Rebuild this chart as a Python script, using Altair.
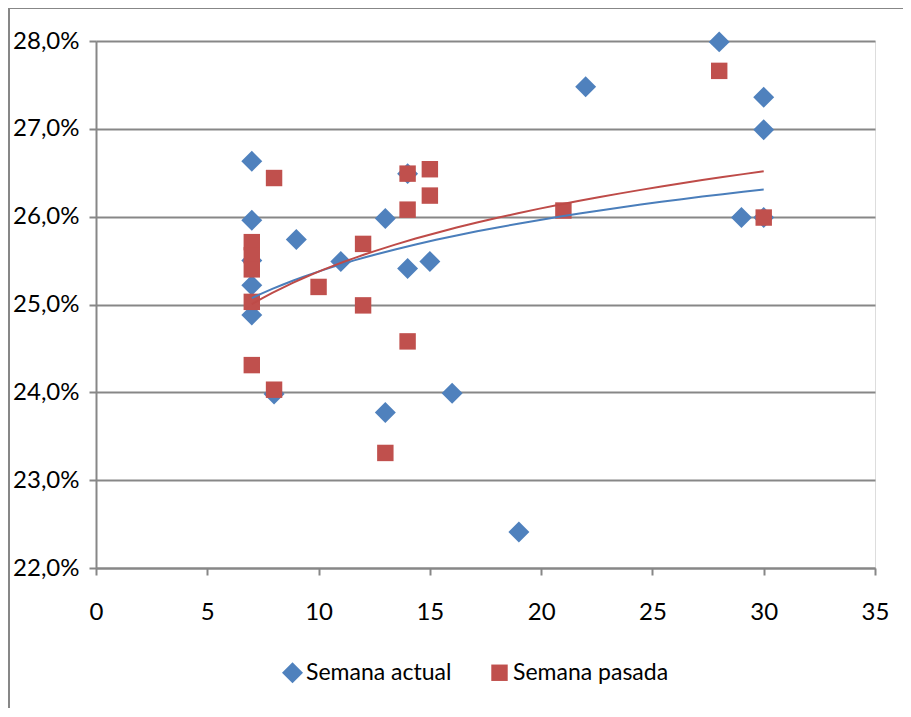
import altair as alt
import pandas as pd

series_names = ["Semana actual", "Semana pasada"]

actual_x = [7, 7, 7, 7, 7, 8, 9, 11, 13, 13, 14, 14, 15, 16, 19, 22, 28, 29, 30, 30, 30]
actual_y = [26.63, 25.96, 25.50, 25.22, 24.88, 23.98, 25.74, 25.49, 25.98, 23.77,
            26.49, 25.41, 25.49, 23.99, 22.41, 27.48, 27.99, 25.99, 27.36, 26.99, 25.99]

pasada_x = [7, 7, 7, 7, 7, 8, 8, 10, 12, 12, 13, 14, 14, 14, 15, 15, 21, 28, 30]
pasada_y = [25.71, 25.56, 25.40, 25.03, 24.31, 26.44, 24.03, 25.20, 25.69, 24.99,
            23.31, 26.49, 26.08, 24.58, 26.54, 26.24, 26.07, 27.66, 25.99]

x_ticks = [0, 5, 10, 15, 20, 25, 30, 35]
y_ticks = [22, 23, 24, 25, 26, 27, 28]

colors = ["#4F81BD", "#C0504D"]
line_colors = ["#4A7EBB", "#BE4B48"]

df = pd.DataFrame({
    "x": actual_x + pasada_x,
    "y": actual_y + pasada_y,
    "serie": [series_names[0]] * len(actual_x) + [series_names[1]] * len(pasada_x),
})

FONT = "Lato"
FS = 24
W, H = 779, 527

xs = alt.Scale(domain=[0, 35], nice=False, zero=False)
ys = alt.Scale(domain=[22, 28], nice=False, zero=False)

legend_cfg = dict(title=None, orient="none", direction="horizontal",
                  legendX=185, legendY=620, labelFont=FONT,
                  labelFontSize=23, labelColor="#000000", labelLimit=400,
                  symbolSize=260, labelOffset=2, columnPadding=36,
                  padding=0, symbolStrokeWidth=0)

points = alt.Chart(df).mark_point(filled=True, opacity=1, strokeWidth=0).encode(
    x=alt.X("x:Q", scale=xs, axis=alt.Axis(
        values=x_ticks, title=None, grid=False, domainColor="#878787", domainWidth=2,
        tickColor="#878787", tickWidth=2, tickSize=7, labelFont=FONT, labelFontSize=FS,
        labelColor="#000000", labelPadding=25, labelFlush=False)),
    y=alt.Y("y:Q", scale=ys, axis=alt.Axis(
        values=y_ticks, title=None, grid=True, gridColor="#878787", gridWidth=2,
        domainColor="#878787", domainWidth=2, tickColor="#878787", tickWidth=2, tickSize=7,
        labelFont=FONT, labelFontSize=FS, labelColor="#000000", labelPadding=10,
        labelExpr="replace(format(datum.value, '.1f'), '.', ',') + '%'")),
    color=alt.Color("serie:N", scale=alt.Scale(domain=series_names, range=colors),
                    legend=alt.Legend(**legend_cfg)),
    shape=alt.Shape("serie:N", scale=alt.Scale(domain=series_names, range=["diamond", "square"]),
                    legend=alt.Legend(**legend_cfg)),
    size=alt.Size("serie:N", scale=alt.Scale(domain=series_names, range=[440, 270]), legend=None),
)

trend = alt.Chart(df).transform_regression(
    "x", "y", method="log", groupby=["serie"]
).mark_line(strokeWidth=2).encode(
    x=alt.X("x:Q", scale=xs),
    y=alt.Y("y:Q", scale=ys),
    stroke=alt.Stroke("serie:N", scale=alt.Scale(domain=series_names, range=line_colors), legend=None),
)

border = alt.Chart(pd.DataFrame({"k": [0]})).mark_rect(
    fill=None, stroke="#878787", strokeWidth=2, clip=False
).encode(
    x=alt.value(-87), x2=alt.value(W + 40), y=alt.value(-33), y2=alt.value(H + 200)
)

chart = alt.layer(border, points, trend).properties(
    width=W, height=H,
    autosize=alt.AutoSizeParams(type="none"),
    padding={"left": 88, "top": 33, "right": 28, "bottom": 140},
).configure_view(stroke=None).configure(background="#ffffff")

chart.save("out.html", embed_options={"renderer": "svg", "actions": False})
